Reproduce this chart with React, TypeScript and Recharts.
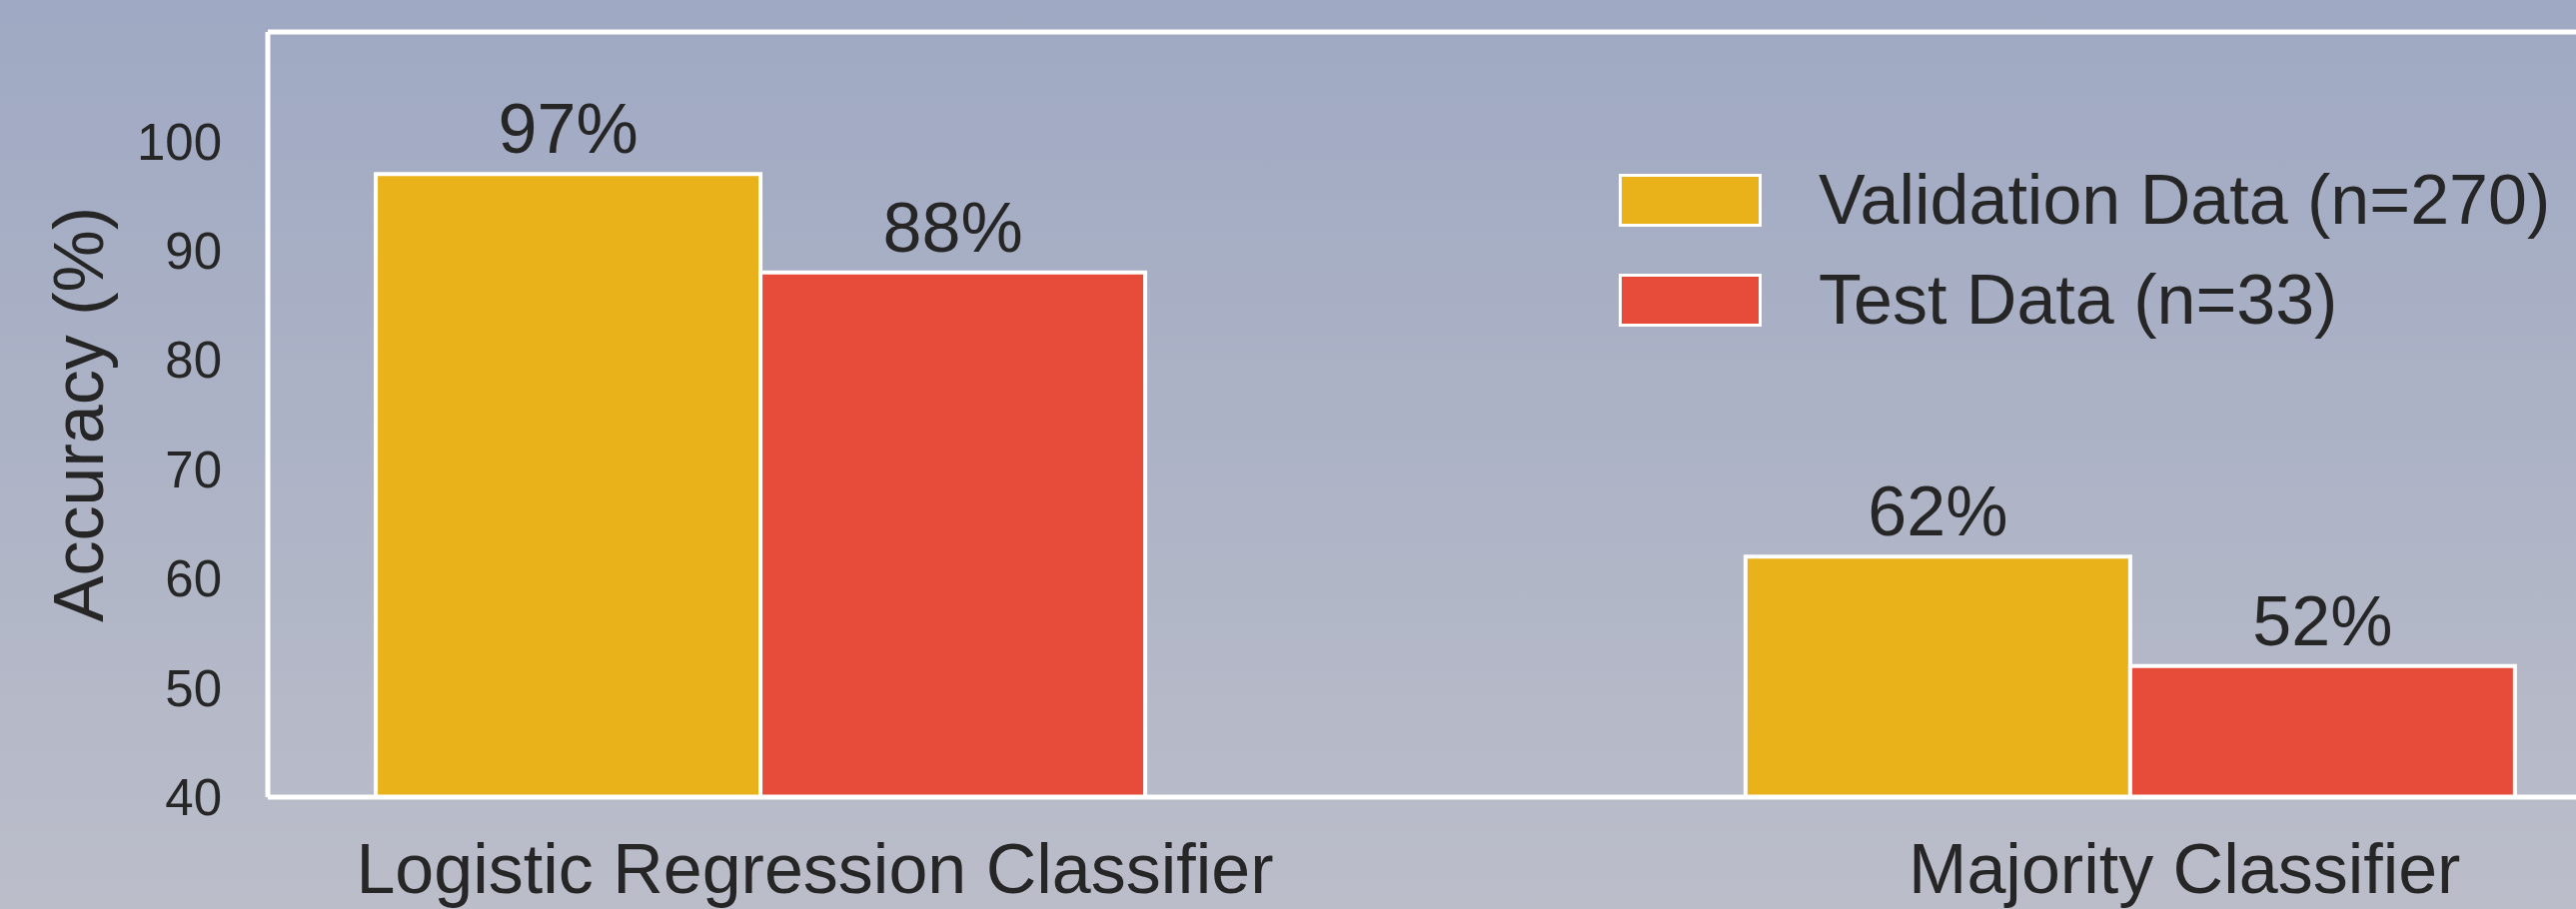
import { BarChart, Bar, XAxis, YAxis, ReferenceLine, LabelList, Legend } from 'recharts';

const categories = ['Logistic Regression Classifier', 'Majority Classifier'];
const validationAccuracy = [97, 62];
const testAccuracy = [88, 52];
const seriesNames = ['Validation Data (n=270)', 'Test Data (n=33)'];
const yTicks = [40, 50, 60, 70, 80, 90, 100];

const YELLOW = '#E9B21B';
const RED = '#E74C3B';
const INK = '#262626';
const FONT = '"Liberation Sans", Arial, Helvetica, sans-serif';

const data = categories.map((name, i) => ({
  pos: i,
  name,
  validation: validationAccuracy[i],
  test: testAccuracy[i],
}));

// category names sit a bit right of the group centre, like the original
function CategoryTick(props: any) {
  const { x, y, payload } = props;
  return (
    <text x={x + 54} y={y} dy={88} textAnchor="middle" fill={INK} fontSize={70} fontFamily={FONT}>
      {categories[payload.value]}
    </text>
  );
}

function YLabel(props: any) {
  const { viewBox } = props;
  const cx = viewBox.x + 103;
  const cy = viewBox.y + viewBox.height / 2;
  return (
    <text
      x={cx}
      y={cy}
      transform={`rotate(-90 ${cx} ${cy})`}
      textAnchor="middle"
      fill={INK}
      fontSize={70}
      fontFamily={FONT}
    >
      Accuracy (%)
    </text>
  );
}

function LegendContent(props: any) {
  const { payload = [] } = props;
  // keep the series order, not alphabetical
  const items = [...payload].sort(
    (a: any, b: any) => seriesNames.indexOf(a.value) - seriesNames.indexOf(b.value)
  );
  return (
    <div style={{ fontFamily: FONT }}>
      {items.map((entry: any) => (
        <div key={entry.value} style={{ display: 'flex', alignItems: 'center', height: 100 }}>
          <div
            style={{
              width: 143,
              height: 53,
              boxSizing: 'border-box',
              border: '3px solid #fff',
              background: entry.color,
              marginRight: 57,
            }}
          />
          <span style={{ fontSize: 70, lineHeight: '100px', color: INK, whiteSpace: 'nowrap' }}>{entry.value}</span>
        </div>
      ))}
    </div>
  );
}

export default function App() {
  return (
    <div
      style={{
        position: 'absolute',
        left: 0,
        top: 0,
        width: 2578,
        height: 910,
        overflow: 'hidden',
        background: 'linear-gradient(to bottom, #9FA9C3, #BBBDC9)',
      }}
    >
      <BarChart
        width={2708}
        height={910}
        data={data}
        margin={{ top: 32, right: 0, bottom: 0, left: 0 }}
        barGap={0}
      >
        <XAxis
          dataKey="pos"
          type="number"
          domain={[-0.36, 1.42]}
          ticks={[0, 1]}
          interval={0}
          height={112}
          axisLine={{ stroke: '#fff', strokeWidth: 5 }}
          tickLine={false}
          tick={<CategoryTick />}
        />
        <YAxis
          domain={[40, 110]}
          ticks={yTicks}
          width={268}
          axisLine={{ stroke: '#fff', strokeWidth: 5 }}
          tickLine={false}
          tickMargin={40}
          tick={{ fill: INK, fontSize: 51, fontFamily: FONT }}
          label={<YLabel />}
        />
        <ReferenceLine y={110} stroke="#fff" strokeWidth={5} />
        <Legend
          layout="horizontal"
          verticalAlign="middle"
          align="center"
          wrapperStyle={{ left: 1620, top: 150, width: 950 }}
          content={<LegendContent />}
        />
        <Bar
          dataKey="validation"
          name={seriesNames[0]}
          fill={YELLOW}
          stroke="#fff"
          strokeWidth={4}
          barSize={385}
          isAnimationActive={false}
        >
          <LabelList
            dataKey="validation"
            position="top"
            offset={21}
            formatter={(v: any) => `${v}%`}
            fill={INK}
            fontSize={70}
            fontFamily={FONT}
          />
        </Bar>
        <Bar
          dataKey="test"
          name={seriesNames[1]}
          fill={RED}
          stroke="#fff"
          strokeWidth={4}
          barSize={385}
          isAnimationActive={false}
        >
          <LabelList
            dataKey="test"
            position="top"
            offset={21}
            formatter={(v: any) => `${v}%`}
            fill={INK}
            fontSize={70}
            fontFamily={FONT}
          />
        </Bar>
      </BarChart>
    </div>
  );
}
